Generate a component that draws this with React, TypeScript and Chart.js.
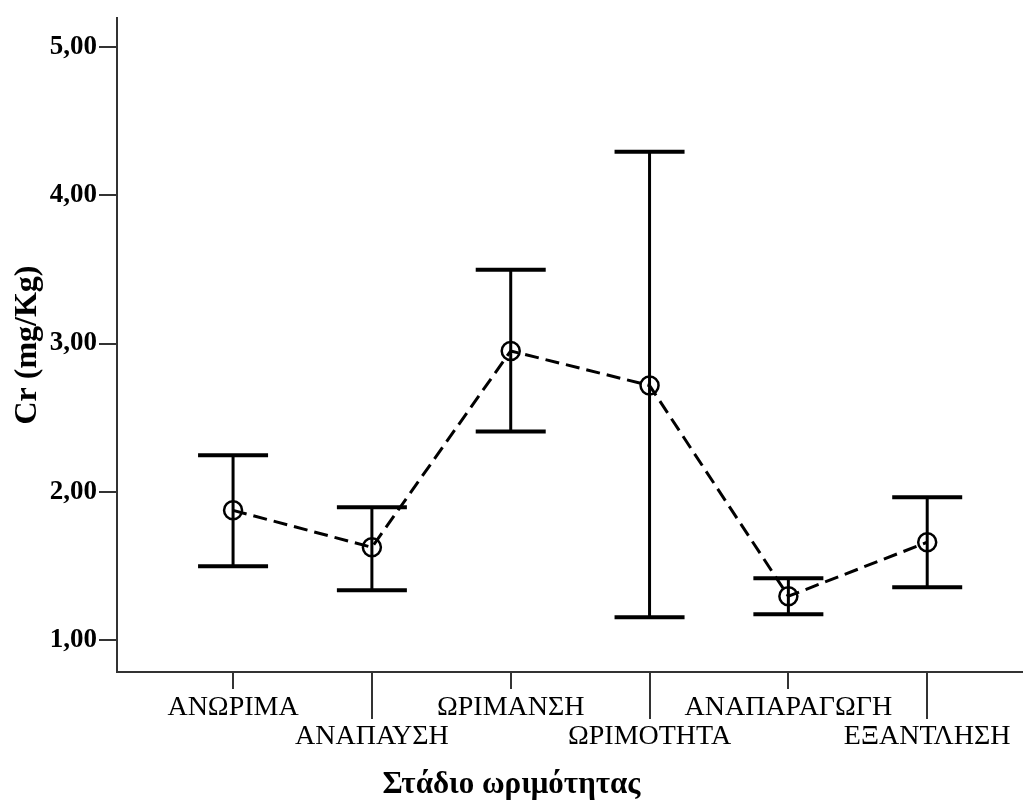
import React, { useEffect, useRef } from 'react';
import { Chart, registerables } from 'chart.js';

Chart.register(...registerables);

// ---- Data ----
const categories = ['ΑΝΩΡΙΜΑ', 'ΑΝΑΠΑΥΣΗ', 'ΩΡΙΜΑΝΣΗ', 'ΩΡΙΜΟΤΗΤΑ', 'ΑΝΑΠΑΡΑΓΩΓΗ', 'ΕΞΑΝΤΛΗΣΗ'];
const categoryPositions = [1, 2, 3, 4, 5, 6];
const means = [1.875, 1.626, 2.95, 2.717, 1.296, 1.66];
const upperCI = [2.246, 1.896, 3.498, 4.293, 1.418, 1.963];
const lowerCI = [1.498, 1.337, 2.407, 1.155, 1.175, 1.357];
const yTickValues = [1, 2, 3, 4, 5];
const yAxisTitle = 'Cr (mg/Kg)';
const xAxisTitle = 'Στάδιο ωριμότητας';

const SERIF = "'Liberation Serif', 'Times New Roman', 'DejaVu Serif', serif";
const AXIS_COLOR = '#333333';

const errorBarPlugin = {
  id: 'errorBars',
  beforeDatasetsDraw(chart: any) {
    const { ctx, scales } = chart;
    const xs = scales.x;
    const ys = scales.y;
    const capHalf = 35;
    ctx.save();
    ctx.strokeStyle = '#000';
    ctx.lineCap = 'butt';
    categoryPositions.forEach((pos, i) => {
      const x = xs.getPixelForValue(pos);
      const yU = ys.getPixelForValue(upperCI[i]);
      const yL = ys.getPixelForValue(lowerCI[i]);
      ctx.lineWidth = 3;
      ctx.beginPath();
      ctx.moveTo(x, yU);
      ctx.lineTo(x, yL);
      ctx.stroke();
      ctx.lineWidth = 4;
      ctx.beginPath();
      ctx.moveTo(x - capHalf, yU);
      ctx.lineTo(x + capHalf, yU);
      ctx.moveTo(x - capHalf, yL);
      ctx.lineTo(x + capHalf, yL);
      ctx.stroke();
    });
    ctx.restore();
  },
  afterDraw(chart: any) {
    // long tick marks for the second-row category labels
    const { ctx, scales, chartArea } = chart;
    const xs = scales.x;
    ctx.save();
    ctx.strokeStyle = AXIS_COLOR;
    ctx.lineWidth = 2;
    categoryPositions.forEach((pos, i) => {
      if (i % 2 === 1) {
        const x = Math.round(xs.getPixelForValue(pos));
        ctx.beginPath();
        ctx.moveTo(x, chartArea.bottom);
        ctx.lineTo(x, chartArea.bottom + 47);
        ctx.stroke();
      }
    });
    ctx.restore();
  },
};

export default function App() {
  const canvasRef = useRef<HTMLCanvasElement | null>(null);

  useEffect(() => {
    if (!canvasRef.current) return;
    const chart = new Chart(canvasRef.current, {
      type: 'line',
      data: {
        datasets: [
          {
            data: categoryPositions.map((p, i) => ({ x: p, y: means[i] })),
            borderColor: '#000',
            borderWidth: 3,
            borderDash: [14, 7],
            pointRadius: 9,
            pointBorderWidth: 2.5,
            pointBorderColor: '#000',
            pointBackgroundColor: 'rgba(0,0,0,0)',
            fill: false,
            tension: 0,
          },
        ],
      },
      options: {
        animation: false,
        responsive: false,
        maintainAspectRatio: false,
        layout: { autoPadding: false, padding: { top: 18, right: 0, left: 0, bottom: 0 } },
        plugins: {
          legend: { display: false },
          tooltip: { enabled: false },
          title: {
            display: true,
            position: 'bottom',
            text: xAxisTitle,
            color: '#000',
            font: { family: SERIF, size: 31, weight: 'bold', lineHeight: 1 },
            padding: { top: 3, bottom: 0 },
          },
        },
        scales: {
          x: {
            type: 'linear',
            min: 0.164,
            max: 6.69,
            afterBuildTicks: (s: any) => {
              s.ticks = categoryPositions.map((v) => ({ value: v }));
            },
            afterFit: (s: any) => {
              s.height = 94;
              s.paddingLeft = 0;
              s.paddingRight = 0;
            },
            grid: {
              drawOnChartArea: false,
              drawTicks: true,
              tickLength: 17,
              color: AXIS_COLOR,
              lineWidth: 2,
            },
            border: { display: true, color: AXIS_COLOR, width: 2 },
            ticks: {
              autoSkip: false,
              maxRotation: 0,
              minRotation: 0,
              padding: 4,
              color: '#000',
              font: { family: SERIF, size: 28, lineHeight: 1.05 },
              callback: (value: any) => {
                const idx = categoryPositions.indexOf(Math.round(Number(value)));
                if (idx < 0) return '';
                return idx % 2 === 0 ? categories[idx] : ['', categories[idx]];
              },
            },
          },
          y: {
            type: 'linear',
            min: 0.785,
            max: 5.195,
            afterBuildTicks: (s: any) => {
              s.ticks = yTickValues.map((v) => ({ value: v }));
            },
            afterFit: (s: any) => {
              s.width = 117;
              s.paddingTop = 0;
              s.paddingBottom = 0;
            },
            grid: {
              drawOnChartArea: false,
              drawTicks: true,
              tickLength: 18,
              color: AXIS_COLOR,
              lineWidth: 2,
            },
            border: { display: true, color: AXIS_COLOR, width: 2 },
            ticks: {
              padding: 2,
              color: '#000',
              font: { family: SERIF, size: 27, weight: 'bold' },
              callback: (value: any) => Number(value).toFixed(2).replace('.', ','),
            },
            title: {
              display: true,
              text: yAxisTitle,
              color: '#000',
              font: { family: SERIF, size: 32, weight: 'bold', lineHeight: 1.2 },
              padding: { top: 9, bottom: 0 },
            },
          },
        },
      } as any,
      plugins: [errorBarPlugin],
    });
    return () => chart.destroy();
  }, []);

  return (
    <div style={{ position: 'absolute', left: 0, top: 0, width: 1023, height: 800, background: '#fff' }}>
      <canvas ref={canvasRef} width={1023} height={800} style={{ width: 1023, height: 800 }} />
    </div>
  );
}
